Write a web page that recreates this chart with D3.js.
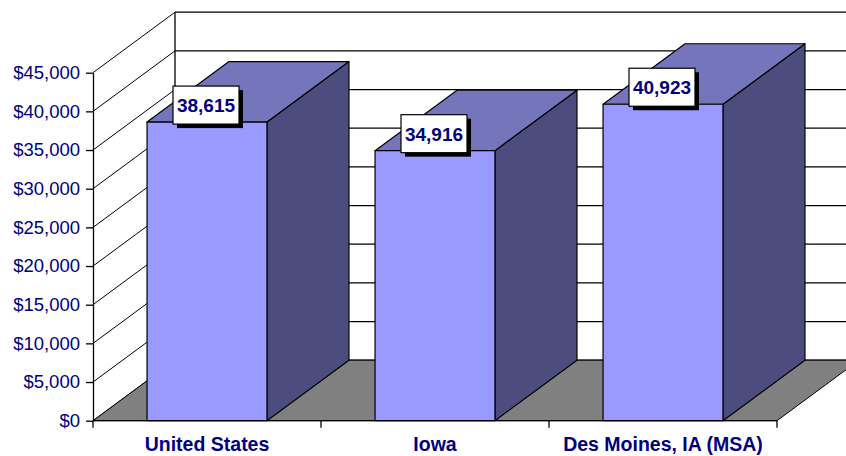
<!DOCTYPE html>
<html lang="en">
<head>
  <meta charset="UTF-8">
  <title>Per Capita Income</title>
  <script src="https://d3js.org/d3.v7.min.js"></script>
  <style>
    body { margin: 0; padding: 0; background: #fff; }
    svg { display: block; font-family: Arial, 'Liberation Sans', sans-serif; }
    .tick-label { fill: #000080; font-size: 18.5px; }
    .cat-label { fill: #000080; font-size: 19.5px; font-weight: bold; }
    .val-label { fill: #000080; font-size: 19px; font-weight: bold; }
  </style>
</head>
<body>
  <svg id="chart" width="846" height="456"></svg>

  <script>
    const categories = ["United States", "Iowa", "Des Moines, IA (MSA)"];
    const values = [38615, 34916, 40923];
    const valueLabels = ["38,615", "34,916", "40,923"];
    const yTicks = [0, 5000, 10000, 15000, 20000, 25000, 30000, 35000, 40000, 45000];

    const plotLeft = 93, plotRight = 777, plotBottom = 420.7, plotTop = 72.7;
    const dx = 82, dy = -60.5;   // depth of the 3d box

    const svg = d3.select("#chart");

    const x = d3.scaleBand().domain(categories).range([plotLeft, plotRight]).padding(0);
    const y = d3.scaleLinear().domain([0, 45000]).range([plotBottom, plotTop]);
    const barW = x.bandwidth() * 0.526;

    const pts = arr => arr.map(p => p.join(",")).join(" ");

    // back wall
    svg.append("polygon")
      .attr("points", pts([[plotLeft + dx, y(45000) + dy], [plotRight + dx, y(45000) + dy],
                           [plotRight + dx, y(0) + dy], [plotLeft + dx, y(0) + dy]]))
      .attr("fill", "#fff");

    // left wall
    svg.append("polygon")
      .attr("points", pts([[plotLeft, y(45000)], [plotLeft + dx, y(45000) + dy],
                           [plotLeft + dx, y(0) + dy], [plotLeft, y(0)]]))
      .attr("fill", "#fff");

    // gridlines on both walls
    yTicks.forEach(t => {
      svg.append("line")
        .attr("x1", plotLeft + dx).attr("x2", plotRight + dx + 20)
        .attr("y1", y(t) + dy).attr("y2", y(t) + dy)
        .attr("stroke", "#000").attr("stroke-width", 1.3);
      svg.append("line")
        .attr("x1", plotLeft).attr("x2", plotLeft + dx)
        .attr("y1", y(t)).attr("y2", y(t) + dy)
        .attr("stroke", "#000").attr("stroke-width", 1);
    });
    svg.append("line")
      .attr("x1", plotLeft + dx).attr("x2", plotLeft + dx)
      .attr("y1", y(45000) + dy).attr("y2", y(0) + dy)
      .attr("stroke", "#000").attr("stroke-width", 1.3);

    // floor
    svg.append("polygon")
      .attr("points", pts([[plotLeft, y(0)], [plotRight, y(0)], [plotRight + dx, y(0) + dy], [plotLeft + dx, y(0) + dy]]))
      .attr("fill", "#808080")
      .attr("stroke", "#000").attr("stroke-width", 1);

    // bars
    categories.forEach((c, i) => {
      const x0 = x(c) + (x.bandwidth() - barW) / 2, x1 = x0 + barW;
      const yt = y(values[i]), yb = y(0);
      const g = svg.append("g").attr("stroke", "#000").attr("stroke-width", 1.2).attr("stroke-linejoin", "round");

      g.append("polygon")
        .attr("points", pts([[x1, yt], [x1 + dx, yt + dy], [x1 + dx, yb + dy], [x1, yb]]))
        .attr("fill", "#4c4c7e");
      g.append("polygon")
        .attr("points", pts([[x0, yt], [x0 + dx, yt + dy], [x1 + dx, yt + dy], [x1, yt]]))
        .attr("fill", "#7575bb");
      g.append("rect")
        .attr("x", x0).attr("y", yt)
        .attr("width", barW).attr("height", yb - yt)
        .attr("fill", "#9999ff");
    });

    // value labels
    categories.forEach((c, i) => {
      const cx = x(c) + x.bandwidth() / 2 - 1;
      const yt = y(values[i]);
      const bw = 66, bh = 38;
      const lg = svg.append("g").attr("transform", `translate(${cx - bw / 2},${yt - 36})`);
      lg.append("rect").attr("x", 4).attr("y", 4).attr("width", bw).attr("height", bh).attr("fill", "#000");
      lg.append("rect").attr("width", bw).attr("height", bh)
        .attr("fill", "#fff").attr("stroke", "#000").attr("stroke-width", 1.2);
      lg.append("text")
        .attr("class", "val-label")
        .attr("x", bw / 2).attr("y", bh / 2 + 7)
        .attr("text-anchor", "middle")
        .text(valueLabels[i]);
    });

    // y axis
    const yAxis = svg.append("g")
      .attr("transform", `translate(${plotLeft},0)`)
      .call(d3.axisLeft(y).tickValues(yTicks)
        .tickFormat(d => "$" + d3.format(",")(d))
        .tickSize(7).tickSizeOuter(0).tickPadding(6));
    yAxis.select(".domain").attr("stroke", "#000").attr("stroke-width", 1.3);
    yAxis.selectAll(".tick line").attr("stroke", "#000").attr("stroke-width", 1.3);
    yAxis.selectAll(".tick text").attr("class", "tick-label").attr("font-size", null).attr("font-family", null).attr("fill", null);

    // x axis line and boundary ticks
    svg.append("line")
      .attr("x1", plotLeft).attr("x2", plotRight).attr("y1", plotBottom).attr("y2", plotBottom)
      .attr("stroke", "#000").attr("stroke-width", 1.3);
    categories.map(c => x(c)).concat([plotRight]).forEach(bx => {
      svg.append("line")
        .attr("x1", bx).attr("x2", bx).attr("y1", plotBottom).attr("y2", plotBottom + 7)
        .attr("stroke", "#000").attr("stroke-width", 1.3);
    });

    // category labels
    const xAxis = svg.append("g")
      .attr("transform", `translate(0,${plotBottom})`)
      .call(d3.axisBottom(x).tickSize(0).tickPadding(16));
    xAxis.select(".domain").remove();
    xAxis.selectAll(".tick text").attr("class", "cat-label").attr("font-size", null).attr("font-family", null).attr("fill", null);
  </script>
</body>
</html>
